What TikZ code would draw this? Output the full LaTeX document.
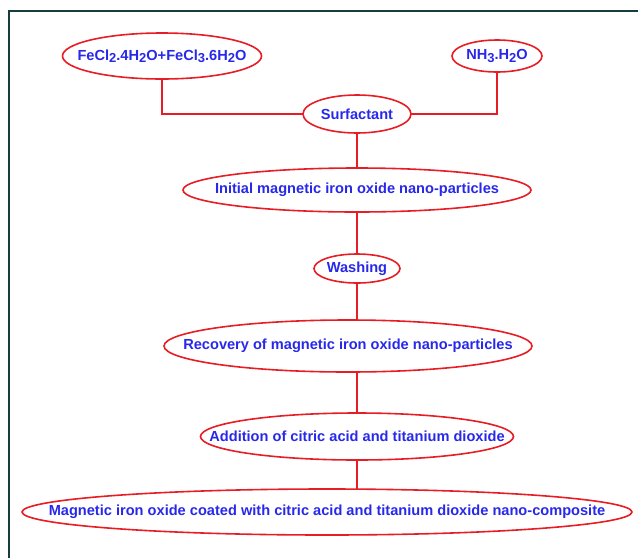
\documentclass[tikz,border=0pt]{standalone}
\usepackage{fontspec}
\setmainfont{Liberation Sans}
\usepackage{xcolor}
\definecolor{ink}{RGB}{40,40,235}
\definecolor{rim}{RGB}{232,28,36}
\definecolor{frame}{RGB}{22,62,62}
\usetikzlibrary{positioning, shapes.geometric}
\tikzstyle{Bubble} = [
ellipse, draw=rim, line width=1.6pt, inner sep=0pt, outer sep=0pt,
text=ink, font=\fontsize{14.6}{16}\selectfont\bfseries]
\tikzstyle{Link} = [draw=rim, line width=1.7pt]
\newcommand{\chemsub}[1]{\raisebox{-0.3ex}{\fontsize{13}{13}\selectfont #1}}
\newcommand{\inside}[1]{\makebox[0pt]{#1}}

\begin{document}
\begin{tikzpicture}[x=1pt, y=-1pt]
    \useasboundingbox (0,0) rectangle (638,558);
    \draw[frame, line width=2.6pt] (9,558) -- (9,11) -- (638,11);

    \node [Bubble, minimum width=199pt, minimum height=46pt] (1) at (162,56)
        {\inside{FeCl\chemsub{2}.4H\chemsub{2}O+FeCl\chemsub{3}.6H\chemsub{2}O}};
    \node [Bubble, minimum width=90pt, minimum height=32pt] (2) at (497,56)
        {\inside{NH\chemsub{3}.H\chemsub{2}O}};
    \node [Bubble, minimum width=108pt, minimum height=38pt] (3) at (357,114)
        {\inside{Surfactant}};
    \node [Bubble, minimum width=348pt, minimum height=44pt, below =35pt of 3] (4)
        {\inside{Initial magnetic iron oxide nano-particles}};
    \node [Bubble, minimum width=86pt, minimum height=29pt, below =42pt of 4] (5)
        {\inside{Washing}};
    \node [Bubble, minimum width=368pt, minimum height=52pt, below =37pt of 5, xshift=-9pt] (6)
        {\inside{Recovery of magnetic iron oxide nano-particles}};
    \node [Bubble, minimum width=313pt, minimum height=47pt, below =41pt of 6, xshift=9pt] (7)
        {\inside{Addition of citric acid and titanium dioxide}};
    \node [Bubble, minimum width=610pt, minimum height=46pt, below =29pt of 7, xshift=-30pt] (8)
        {\inside{Magnetic iron oxide coated with citric acid and titanium dioxide nano-composite}};

    \draw[Link] (1.south) |- (3.west);
    \draw[Link] (2.south) |- (3.east);
    \draw[Link] (3.south) -- (4.north);
    \draw[Link] (4.south) -- (5.north);
    \draw[Link] (5.south) -- (5.south |- 6.north);
    \draw[Link] (6.north |- 6.south) ++(9pt,0) coordinate (6s) -- (6s |- 7.north);
    \draw[Link] (7.south) -- (7.south |- 8.north);
\end{tikzpicture}
\end{document}
